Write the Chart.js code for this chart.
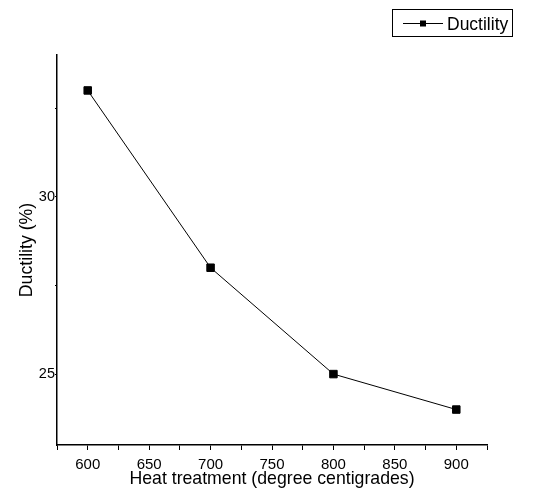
<!DOCTYPE html>
<html>
<head>
<meta charset="utf-8">
<script src="https://cdn.jsdelivr.net/npm/chart.js@4.4.1/dist/chart.umd.min.js"></script>
<style>
html,body{margin:0;padding:0;background:#fff;}
#wrap{width:537px;height:492px;position:relative;}
</style>
</head>
<body>
<div id="wrap"><canvas id="c" width="537" height="492"></canvas></div>
<script>
const heatTreatment = [600, 700, 800, 900];
const ductility = [33, 28, 25, 24];
const seriesLabel = 'Ductility';
const xTickValues = [575, 600, 625, 650, 675, 700, 725, 750, 775, 800, 825, 850, 875, 900, 925];
const xTickLabels = [600, 650, 700, 750, 800, 850, 900];
const yTickValues = [25, 27.5, 30, 32.5];
const yTickLabels = [25, 30];
const xTitle = 'Heat treatment (degree centigrades)';
const yTitle = 'Ductility (%)';

const FONT = 'Arial, "Liberation Sans", sans-serif';

const legendPlugin = {
  id: 'boxLegend',
  afterDraw(chart) {
    const ctx = chart.ctx;
    const ds = chart.data.datasets[0];
    ctx.save();
    ctx.strokeStyle = '#000';
    ctx.lineWidth = 1;
    ctx.strokeRect(392.5, 9.5, 120, 27);
    ctx.beginPath();
    ctx.moveTo(403, 23.5);
    ctx.lineTo(443, 23.5);
    ctx.strokeStyle = ds.borderColor;
    ctx.stroke();
    ctx.fillStyle = ds.pointBackgroundColor;
    ctx.fillRect(420, 20.5, 6, 6);
    ctx.font = '17.5px ' + FONT;
    ctx.fillStyle = '#000';
    ctx.textBaseline = 'alphabetic';
    ctx.textAlign = 'left';
    ctx.fillText(ds.label, 447, 30);
    ctx.restore();
  }
};

new Chart(document.getElementById('c'), {
  type: 'line',
  data: {
    datasets: [{
      label: seriesLabel,
      data: heatTreatment.map((x, i) => ({x: x, y: ductility[i]})),
      borderColor: '#000',
      borderWidth: 1,
      pointStyle: 'rect',
      pointRadius: 5.3,
      pointBorderWidth: 1,
      pointBackgroundColor: '#000',
      pointBorderColor: '#000',
      tension: 0
    }]
  },
  options: {
    responsive: false,
    animation: false,
    events: [],
    layout: {padding: {top: 55, right: 50, left: 0, bottom: 0}},
    plugins: {legend: {display: false}, tooltip: {enabled: false}},
    scales: {
      x: {
        type: 'linear',
        min: 575, max: 925,
        afterBuildTicks: s => { s.ticks = xTickValues.map(v => ({value: v})); },
        afterFit: s => { s.height = 47; },
        grid: {drawOnChartArea: false, drawTicks: true, tickLength: 5, color: '#000', lineWidth: 1},
        border: {display: true, color: '#000', width: 1.5},
        ticks: {
          autoSkip: false, maxRotation: 0, padding: 6,
          color: '#000', font: {family: FONT, size: 15},
          callback: v => xTickLabels.includes(v) ? String(v) : ''
        },
        title: {display: true, text: xTitle, color: '#000', font: {family: FONT, size: 17.7}, padding: {top: 0, bottom: 2}}
      },
      y: {
        min: 23, max: 34,
        afterBuildTicks: s => { s.ticks = yTickValues.map(v => ({value: v})); },
        afterFit: s => { s.width = 57; },
        grid: {drawOnChartArea: false, drawTicks: true, tickLength: 2, color: '#000', lineWidth: 1},
        border: {display: true, color: '#000', width: 1.5},
        ticks: {
          autoSkip: false, padding: 0,
          color: '#000', font: {family: FONT, size: 14.5},
          callback: v => yTickLabels.includes(v) ? String(v) : ''
        },
        title: {display: true, text: yTitle, color: '#000', font: {family: FONT, size: 17.7}, padding: {top: 16, bottom: 0}}
      }
    }
  },
  plugins: [legendPlugin]
});
</script>
</body>
</html>
